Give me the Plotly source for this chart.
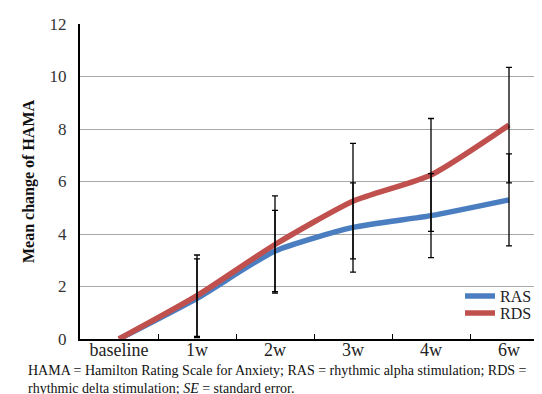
import plotly.graph_objects as go

categories = ["baseline", "1w", "2w", "3w", "4w", "6w"]
ras_mean = [0, 1.55, 3.35, 4.25, 4.7, 5.3]
rds_mean = [0, 1.65, 3.6, 5.25, 6.25, 8.15]
ras_se = [0, 1.5, 1.55, 1.7, 1.6, 1.75]
rds_se = [0, 1.55, 1.85, 2.2, 2.15, 2.2]
y_ticks = [0, 2, 4, 6, 8, 10, 12]

BLUE = "#4A7EC1"
RED = "#C0504D"
SERIF = "Liberation Serif"

fig = go.Figure()
fig.add_trace(go.Scatter(x=categories, y=ras_mean, mode="lines", name="RAS", legend="legend",
                         line=dict(color=BLUE, width=5.5, shape="spline", smoothing=0.6)))
fig.add_trace(go.Scatter(x=categories, y=rds_mean, mode="lines", name="RDS", legend="legend2",
                         line=dict(color=RED, width=5.5, shape="spline", smoothing=0.6)))
for m, e in ((ras_mean, ras_se), (rds_mean, rds_se)):
    xs = [c for c, v in zip(categories, e) if v > 0]
    ys = [mm for mm, v in zip(m, e) if v > 0]
    es = [v for v in e if v > 0]
    fig.add_trace(go.Scatter(x=xs, y=ys, mode="markers", showlegend=False, hoverinfo="skip",
                             marker=dict(size=1, color="rgba(0,0,0,0)"),
                             error_y=dict(type="data", array=es, visible=True,
                                          color="black", thickness=1.3, width=3)))

legend_common = dict(xanchor="left", yanchor="middle", bgcolor="rgba(0,0,0,0)",
                     font=dict(family=SERIF, size=16, color="#222222"), itemwidth=30)

fig.update_layout(
    width=542, height=394,
    margin=dict(l=72, r=2, t=16, b=63),
    paper_bgcolor="white", plot_bgcolor="white",
    font=dict(family=SERIF, size=16, color="#222222"),
    showlegend=True,
    legend=dict(x=0.812, y=0.136, **legend_common),
    legend2=dict(x=0.812, y=0.082, **legend_common),
    xaxis=dict(type="category", tickson="boundaries", ticks="inside", ticklen=5,
               tickcolor="black", tickwidth=1.3, showline=True, linecolor="black", linewidth=2,
               showgrid=False, tickfont=dict(family=SERIF, size=18, color="#222222"),
               ticklabelstandoff=-7, range=[-0.5, 5.5]),
    yaxis=dict(range=[0, 12], tickvals=y_ticks, showline=True, linecolor="black", linewidth=2,
               showgrid=True, gridcolor="#A8A8A8", gridwidth=1, zeroline=False,
               ticks="", ticklabelstandoff=8,
               tickfont=dict(family=SERIF, size=17, color="#333333")),
    annotations=[
        dict(text="<b>Mean change of HAMA</b>", textangle=-90, xref="paper", yref="paper",
             x=-0.11, y=0.5, xanchor="center", yanchor="middle", showarrow=False,
             font=dict(family=SERIF, size=16, color="#111111")),
        dict(text="HAMA = Hamilton Rating Scale for Anxiety; RAS = rhythmic alpha stimulation; RDS =<br>"
                  "rhythmic delta stimulation; <i>SE</i> = standard error.",
             xref="paper", yref="paper", x=-0.115, y=-0.07, xanchor="left", yanchor="top",
             align="left", showarrow=False,
             font=dict(family=SERIF, size=14, color="#111111")),
    ],
)

fig.write_html("out.html")
